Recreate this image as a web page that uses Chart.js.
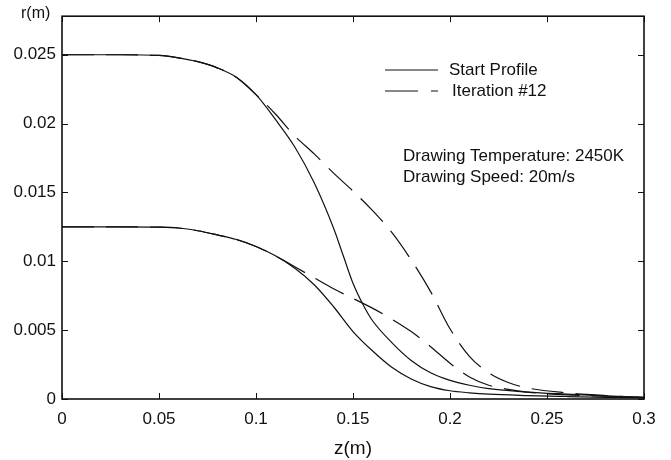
<!DOCTYPE html>
<html>
<head>
<meta charset="utf-8">
<script src="https://cdn.jsdelivr.net/npm/chart.js@4.4.1/dist/chart.umd.min.js"></script>
<style>
  html, body { margin: 0; padding: 0; background: #fff; }
  #wrap { width: 671px; height: 460px; }
</style>
</head>
<body>
<div id="wrap"><canvas id="chart" width="671" height="460"></canvas></div>
<script>
// axis ticks
var xTicks = [0, 0.05, 0.1, 0.15, 0.2, 0.25, 0.3];
var xTickLabels = ['0', '0.05', '0.1', '0.15', '0.2', '0.25', '0.3'];
var yTicks = [0, 0.005, 0.01, 0.015, 0.02, 0.025];
var yTickLabels = ['0', '0.005', '0.01', '0.015', '0.02', '0.025'];

// start profile, outer radius
var zStartOuter = [0, 0.03, 0.05, 0.06, 0.07, 0.08, 0.09, 0.1, 0.11, 0.12, 0.13, 0.14, 0.145, 0.15, 0.155, 0.16, 0.17, 0.18, 0.19, 0.2, 0.21, 0.22, 0.24, 0.26, 0.28, 0.3];
var rStartOuter = [0.025, 0.025, 0.02495, 0.02478, 0.0245, 0.02405, 0.02335, 0.0221, 0.0203, 0.0183, 0.0157, 0.0124, 0.0104, 0.0084, 0.0069, 0.0057, 0.0041, 0.0028, 0.0019, 0.00135, 0.001, 0.00075, 0.0005, 0.00035, 0.00022, 0.00012];

// iteration #12, outer radius
var zIterOuter = [0, 0.03, 0.05, 0.06, 0.07, 0.08, 0.09, 0.1, 0.11, 0.12, 0.13, 0.14, 0.15, 0.16, 0.17, 0.18, 0.19, 0.2, 0.21, 0.22, 0.23, 0.24, 0.26, 0.28, 0.3];
var rIterOuter = [0.025, 0.025, 0.02495, 0.02478, 0.0245, 0.02405, 0.02335, 0.0221, 0.0207, 0.0191, 0.0178, 0.0164, 0.0151, 0.0137, 0.0121, 0.0101, 0.0078, 0.0051, 0.0031, 0.0019, 0.0012, 0.0008, 0.00045, 0.00025, 0.00012];

// start profile, inner radius
var zStartInner = [0, 0.03, 0.05, 0.06, 0.07, 0.08, 0.09, 0.1, 0.11, 0.12, 0.13, 0.14, 0.15, 0.16, 0.17, 0.18, 0.19, 0.2, 0.21, 0.22, 0.24, 0.26, 0.28, 0.3];
var rStartInner = [0.0125, 0.0125, 0.01248, 0.01242, 0.01222, 0.01192, 0.01158, 0.01108, 0.0104, 0.0095, 0.0083, 0.0067, 0.0049, 0.0035, 0.0023, 0.00145, 0.0009, 0.0006, 0.00045, 0.00035, 0.00025, 0.00018, 0.00012, 0.00008];

// iteration #12, inner radius
var zIterInner = [0, 0.03, 0.05, 0.06, 0.07, 0.08, 0.09, 0.1, 0.11, 0.12, 0.13, 0.14, 0.15, 0.16, 0.17, 0.18, 0.19, 0.2, 0.21, 0.22, 0.23, 0.24, 0.26, 0.28, 0.3];
var rIterInner = [0.0125, 0.0125, 0.01248, 0.01242, 0.01222, 0.01192, 0.01158, 0.01108, 0.0104, 0.0096, 0.0088, 0.008, 0.0073, 0.0066, 0.0058, 0.0049, 0.0038, 0.0026, 0.0016, 0.001, 0.0007, 0.0005, 0.0003, 0.0002, 0.0001];

var FONT = '"Liberation Sans", Arial, Helvetica, sans-serif';
var DASH = [32, 12];

function toPoints(zs, rs) {
    var pts = [];
    for (var i = 0; i < zs.length; i++) {
        pts.push({x: zs[i], y: rs[i]});
    }
    return pts;
}

function lineSet(label, zs, rs, dashed) {
    return {
        label: label,
        data: toPoints(zs, rs),
        showLine: true,
        borderColor: '#111',
        borderWidth: 1.2,
        borderDash: dashed ? DASH : [],
        pointRadius: 0,
        cubicInterpolationMode: 'monotone',
        fill: false
    };
}

// frame, inward ticks, legend and notes
var decor = {
    id: 'decor',
    afterDraw: function(chart) {
        var ctx = chart.ctx;
        var a = chart.chartArea;
        var xs = chart.scales.x, ys = chart.scales.y;
        ctx.save();
        ctx.strokeStyle = '#111';
        ctx.lineWidth = 1;
        ctx.setLineDash([]);
        ctx.beginPath();
        xTicks.forEach(function(v) {
            var px = Math.round(xs.getPixelForValue(v)) + 0.5;
            ctx.moveTo(px, a.bottom); ctx.lineTo(px, a.bottom - 6);
            ctx.moveTo(px, a.top); ctx.lineTo(px, a.top + 6);
        });
        yTicks.forEach(function(v) {
            var py = Math.round(ys.getPixelForValue(v)) + 0.5;
            ctx.moveTo(a.left, py); ctx.lineTo(a.left + 6, py);
            ctx.moveTo(a.right, py); ctx.lineTo(a.right - 6, py);
        });
        ctx.stroke();

        ctx.lineWidth = 1.6;
        ctx.strokeRect(a.left, a.top, a.right - a.left, a.bottom - a.top);

        // legend
        ctx.lineWidth = 1.2;
        ctx.beginPath();
        ctx.moveTo(385, 70); ctx.lineTo(438, 70);
        ctx.stroke();
        ctx.setLineDash([33, 13]);
        ctx.beginPath();
        ctx.moveTo(385, 91); ctx.lineTo(438, 91);
        ctx.stroke();
        ctx.setLineDash([]);

        ctx.fillStyle = '#111';
        ctx.font = '17px ' + FONT;
        ctx.textAlign = 'left';
        ctx.textBaseline = 'middle';
        ctx.fillText('Start Profile', 449, 70);
        ctx.fillText('Iteration #12', 452, 91);
        ctx.fillText('Drawing Temperature: 2450K', 403, 156);
        ctx.fillText('Drawing Speed: 20m/s', 403, 177);

        ctx.font = '16px ' + FONT;
        ctx.fillText('r(m)', 21, 14);
        ctx.restore();
    }
};

var config = {
    type: 'scatter',
    data: {
        datasets: [
            lineSet('Start Profile', zStartOuter, rStartOuter, false),
            lineSet('Iteration #12', zIterOuter, rIterOuter, true),
            lineSet('Start Profile', zStartInner, rStartInner, false),
            lineSet('Iteration #12', zIterInner, rIterInner, true)
        ]
    },
    options: {
        responsive: false,
        animation: false,
        layout: { padding: { top: 14, right: 27, left: 0, bottom: 0 } },
        plugins: {
            legend: { display: false },
            tooltip: { enabled: false }
        },
        scales: {
            x: {
                type: 'linear',
                min: 0,
                max: 0.3,
                grid: { display: false, drawTicks: false },
                border: { display: false },
                afterBuildTicks: function(scale) {
                    scale.ticks = xTicks.map(function(v) { return {value: v}; });
                },
                afterFit: function(scale) { scale.height = 61; },
                ticks: {
                    padding: 10,
                    color: '#111',
                    maxRotation: 0,
                    font: { family: FONT, size: 17 },
                    callback: function(v, i) { return xTickLabels[i]; }
                },
                title: {
                    display: true,
                    text: 'z(m)',
                    color: '#111',
                    padding: { top: 0, bottom: 0 },
                    font: { family: FONT, size: 19 }
                }
            },
            y: {
                type: 'linear',
                min: 0,
                max: 0.0278,
                grid: { display: false, drawTicks: false },
                border: { display: false },
                afterBuildTicks: function(scale) {
                    scale.ticks = yTicks.map(function(v) { return {value: v}; });
                },
                afterFit: function(scale) { scale.width = 62; },
                ticks: {
                    padding: 6,
                    color: '#111',
                    font: { family: FONT, size: 17 },
                    callback: function(v, i) { return yTickLabels[i]; }
                }
            }
        }
    },
    plugins: [decor]
};

var chart = new Chart(document.getElementById('chart'), config);
</script>
</body>
</html>
